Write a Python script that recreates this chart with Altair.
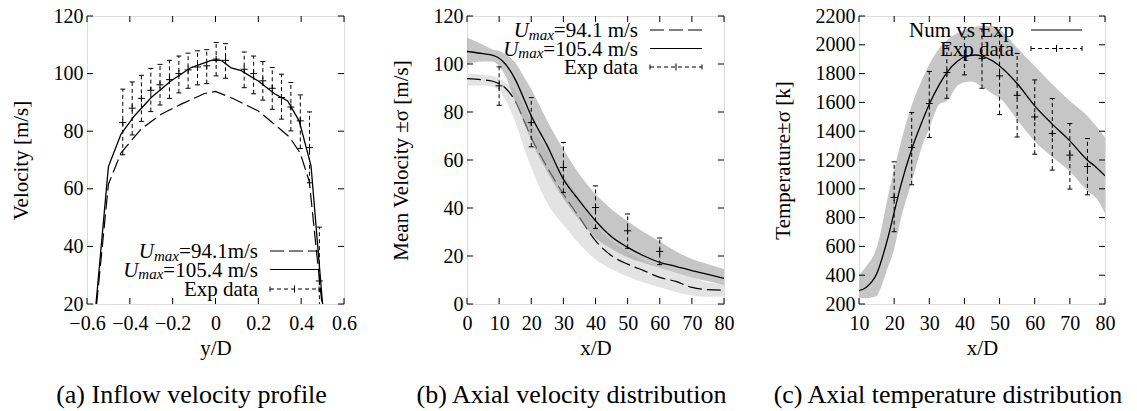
import altair as alt
import pandas as pd

FONT = "Liberation Serif"
H = 288
WA, WB, WC = 257, 257, 246
TK = 6

# ---------------- panel (a): inflow velocity profile ----------------
a_xticks = [-0.6, -0.4, -0.2, 0.0, 0.2, 0.4, 0.6]
a_yticks = [20, 40, 60, 80, 100, 120]
a_solid_x = [-0.558, -0.500, -0.441, -0.379, -0.300, -0.207, -0.114, -0.020, 0.026, 0.073, 0.120, 0.198, 0.276, 0.337, 0.391, 0.446, 0.500]
a_solid_y = [20, 67.7, 79.0, 85.3, 91.7, 97.5, 102.1, 104.6, 104.6, 102.0, 101.0, 97.5, 93.0, 90.5, 83.5, 68.0, 20]
a_dash_x = [-0.555, -0.500, -0.441, -0.348, -0.254, -0.160, -0.051, 0.000, 0.089, 0.200, 0.282, 0.345, 0.395, 0.438, 0.497]
a_dash_y = [20, 61.6, 72.5, 80.7, 85.9, 89.4, 93.1, 93.8, 91.1, 87.0, 82.0, 78.0, 72.5, 62.5, 20]
a_exp_x = [-0.433, -0.389, -0.346, -0.302, -0.259, -0.215, -0.171, -0.128, -0.084, -0.041, 0.003, 0.047,
           0.134, 0.178, 0.221, 0.265, 0.308, 0.352, 0.396, 0.439, 0.485]
a_exp_y = [83.0, 88.0, 91.4, 94.2, 96.1, 97.9, 100.0, 101.3, 102.3, 102.7, 105.0, 104.6,
           101.5, 100.0, 97.5, 94.9, 91.7, 88.4, 83.6, 74.3, 28.0]
a_exp_lo = [71.8, 78.7, 83.4, 86.8, 89.1, 91.4, 93.3, 94.9, 96.1, 96.5, 99.2, 98.4,
            95.1, 93.0, 90.8, 87.6, 84.2, 80.1, 74.0, 62.1, 9.5]
a_exp_hi = [94.6, 97.1, 99.4, 101.8, 103.2, 104.6, 106.1, 107.1, 107.9, 108.3, 110.8, 110.4,
            107.5, 106.1, 104.2, 102.1, 99.8, 96.9, 92.6, 86.7, 46.7]

# ---------------- panel (b): axial velocity ----------------
b_xticks = [0, 10, 20, 30, 40, 50, 60, 70, 80]
b_yticks = [0, 20, 40, 60, 80, 100, 120]
b_x = [0, 5, 8, 10, 12, 15, 18, 20, 25, 30, 35, 40, 45, 50, 55, 60, 65, 70, 75, 80]
b_solid = [105.2, 104.3, 103.6, 102.4, 99.9, 93.6, 84.6, 78.4, 65.9, 52.0, 43.0, 34.7, 28.0, 23.6, 20.1, 17.3, 15.7, 13.9, 12.3, 10.7]
b_dash = [93.9, 93.4, 92.8, 91.8, 89.9, 84.6, 75.6, 69.4, 56.9, 45.8, 36.1, 26.4, 20.1, 16.6, 13.9, 11.1, 9.4, 6.9, 6.0, 5.8]
b_dark_hi = [111, 108, 106, 105.4, 104, 100.6, 94, 89.5, 76.3, 64.5, 54.1, 45.8, 39.5, 34.5, 30, 26, 22, 18.7, 16.6, 14.6]
b_dark_lo = [100, 101, 101, 99, 95, 84, 75, 68, 55, 44, 35, 27.5, 23, 19.5, 17.2, 15, 13, 11, 9.5, 8]
b_light_hi = [96, 95.5, 95, 94, 92, 89, 82, 76, 64, 54, 44, 33, 26, 22, 18, 15, 13, 11, 9, 8.5]
b_light_lo = [91, 91, 90.5, 89, 85, 76, 64, 57, 42, 33, 25, 18.5, 14.5, 11.5, 9, 7, 5, 3.5, 3, 3]
b_exp_x = [10, 20, 30, 40, 50, 60]
b_exp_y = [90.9, 75.6, 56.9, 40.2, 30.5, 21.9]
b_exp_lo = [82.8, 65.5, 46.5, 31.5, 23.2, 16.4]
b_exp_hi = [98.8, 86.0, 67.3, 49.2, 37.5, 27.5]

# ---------------- panel (c): axial temperature ----------------
c_xticks = [10, 20, 30, 40, 50, 60, 70, 80]
c_yticks = [200, 400, 600, 800, 1000, 1200, 1400, 1600, 1800, 2000, 2200]
c_x = [10, 12, 15, 18, 20, 22, 25, 28, 30, 33, 35, 38, 40, 43, 45, 48, 50, 55, 60, 65, 70, 75, 77, 80]
c_solid = [292, 315, 408, 639, 836, 1032, 1275, 1470, 1587, 1730, 1807, 1885, 1916, 1929, 1922, 1888, 1853, 1731, 1576, 1449, 1333, 1199, 1160, 1090]
c_band_x = [10, 12, 15, 16, 18, 20, 22, 25, 28, 30, 33, 35, 38, 40, 42, 45, 48, 50, 55, 60, 65, 70, 75, 78, 80]
c_band_hi = [400, 460, 590, 680, 920, 1130, 1330, 1580, 1760, 1865, 1980, 2031, 2080, 2100, 2120, 2131, 2131, 2107, 1980, 1853, 1726, 1610, 1506, 1420, 1356]
c_band_lo = [245, 240, 255, 300, 440, 580, 800, 1045, 1300, 1420, 1590, 1610, 1715, 1740, 1745, 1710, 1660, 1630, 1480, 1330, 1220, 1120, 985, 920, 830]
c_exp_x = [20, 25, 30, 35, 40, 45, 50, 55, 60, 65, 70, 75]
c_exp_y = [940, 1287, 1592, 1807, 1923, 1906, 1784, 1649, 1499, 1384, 1234, 1155]
c_exp_lo = [702, 1028, 1356, 1629, 1791, 1698, 1515, 1360, 1240, 1130, 998, 958]
c_exp_hi = [1187, 1529, 1815, 1995, 2054, 2110, 2065, 1940, 1756, 1627, 1453, 1349]

captions = ["(a) Inflow velocity profile", "(b) Axial velocity distribution", "(c) Axial temperature distribution"]

ONE = pd.DataFrame({"k": [0]})
PLUS = "M-1,0L1,0M0,-1L0,1"
HBAR = "M-1,0L1,0"


def xaxis(vals, title, fmt):
    return alt.Axis(values=vals, format=fmt, title=title, ticks=False, tickSize=0, domain=False, grid=False,
                    labelFont=FONT, labelFontSize=20, labelColor="black", labelPadding=9,
                    labelFlush=False, labelOverlap=False,
                    titleFont=FONT, titleFontSize=21, titleFontWeight="normal", titleColor="black", titlePadding=4)


def yaxis(vals, title):
    return alt.Axis(values=vals, format="d", title=title, ticks=False, tickSize=0, domain=False, grid=False,
                    labelFont=FONT, labelFontSize=20, labelColor="black", labelPadding=4,
                    labelFlush=False, labelOverlap=False,
                    titleFont=FONT, titleFontSize=21, titleFontWeight="normal", titleColor="black", titlePadding=22)


def make_enc(xdom, ydom, xvals, yvals, xtitle, ytitle, xfmt):
    xs = alt.Scale(domain=xdom, nice=False, zero=False)
    ys = alt.Scale(domain=ydom, nice=False, zero=False)
    xa = xaxis(xvals, xtitle, xfmt)
    ya = yaxis(yvals, ytitle)

    def X(f):
        return alt.X(f + ":Q", scale=xs, axis=xa)

    def Y(f):
        return alt.Y(f + ":Q", scale=ys, axis=ya)
    return X, Y


def frame_ticks(X, Y, xvals, yvals, W):
    xt = pd.DataFrame({"x": xvals})
    yt = pd.DataFrame({"y": yvals})
    return [
        alt.Chart(xt).mark_rule(color="black", strokeWidth=1).encode(x=X("x"), y=alt.value(H), y2=alt.value(H - TK)),
        alt.Chart(xt).mark_rule(color="black", strokeWidth=1).encode(x=X("x"), y=alt.value(0), y2=alt.value(TK)),
        alt.Chart(yt).mark_rule(color="black", strokeWidth=1).encode(y=Y("y"), x=alt.value(0), x2=alt.value(TK)),
        alt.Chart(yt).mark_rule(color="black", strokeWidth=1).encode(y=Y("y"), x=alt.value(W), x2=alt.value(W - TK)),
    ]


def errbars(X, Y, xs, ys, los, his):
    df = pd.DataFrame({"x": xs, "y": ys, "lo": los, "hi": his})
    base = alt.Chart(df)
    return [
        base.mark_rule(color="black", strokeWidth=1, strokeDash=[4, 3], clip=True).encode(x=X("x"), y=Y("lo"), y2="hi:Q"),
        base.mark_point(shape=HBAR, size=25, filled=False, color="black", strokeWidth=1, opacity=1, clip=True).encode(x=X("x"), y=Y("lo")),
        base.mark_point(shape=HBAR, size=25, filled=False, color="black", strokeWidth=1, opacity=1, clip=True).encode(x=X("x"), y=Y("hi")),
        base.mark_point(shape=PLUS, size=49, filled=False, color="black", strokeWidth=1, opacity=1, clip=True).encode(x=X("x"), y=Y("y")),
    ]


def txt(s, x, y, size=21, italic=False):
    return alt.Chart(ONE).mark_text(text=s, font=FONT, fontSize=size, fontStyle="italic" if italic else "normal",
                                    align="right", baseline="alphabetic", color="black").encode(
        x=alt.value(x), y=alt.value(y))


def umax_label(rest, xr, yc):
    w_main = {"=94.1m/s": 79.0, "=94.1 m/s": 84.2, "=105.4 m/s": 94.7}[rest]
    xm = xr - w_main
    xu = xm - 25
    return [txt(rest, xr, yc + 7), txt("max", xm, yc + 9.5, size=15, italic=True), txt("U", xu, yc + 7, italic=True)]


def seg(x1, x2, y, dash=None):
    kw = {"color": "black", "strokeWidth": 1.2}
    if dash:
        kw["strokeDash"] = dash
    return alt.Chart(ONE).mark_rule(**kw).encode(x=alt.value(x1), x2=alt.value(x2), y=alt.value(y))


def vseg(x, y1, y2):
    return alt.Chart(ONE).mark_rule(color="black", strokeWidth=1).encode(x=alt.value(x), y=alt.value(y1), y2=alt.value(y2))


def err_sample(x1, x2, y):
    xm = (x1 + x2) / 2
    return [seg(x1, x2, y, [4, 3]), vseg(x1, y - 2.5, y + 2.5), vseg(x2, y - 2.5, y + 2.5),
            vseg(xm, y - 3.5, y + 3.5)]


def title(i, dx):
    return alt.TitleParams(captions[i], orient="bottom", anchor="middle", frame="group", fontSize=26, font=FONT,
                           fontWeight="normal", color="black", offset=24, dx=dx)


# ---------- build (a) ----------
XA, YA = make_enc([-0.6, 0.6], [20, 120], a_xticks, a_yticks, "y/D", "Velocity [m/s]", ".1~f")
la = []
la.append(alt.Chart(pd.DataFrame({"x": a_dash_x, "y": a_dash_y})).mark_line(color="black", strokeWidth=1.2, strokeDash=[14, 5], clip=True).encode(x=XA("x"), y=YA("y")))
la.append(alt.Chart(pd.DataFrame({"x": a_solid_x, "y": a_solid_y})).mark_line(color="black", strokeWidth=1.3, clip=True).encode(x=XA("x"), y=YA("y")))
la += errbars(XA, YA, a_exp_x, a_exp_y, a_exp_lo, a_exp_hi)
la += frame_ticks(XA, YA, a_xticks, a_yticks, WA)
rows_a = [235, 253.5, 273]
la += umax_label("=94.1m/s", 171, rows_a[0])
la += umax_label("=105.4 m/s", 171, rows_a[1])
la.append(txt("Exp data", 171, rows_a[2] + 7))
la.append(seg(183, 232, rows_a[0], [14, 5]))
la.append(seg(183, 232, rows_a[1]))
la += err_sample(183, 232, rows_a[2])
pa = alt.layer(*la).properties(width=WA, height=H, title=title(0, -24))

# ---------- build (b) ----------
XB, YB = make_enc([0, 80], [0, 120], b_xticks, b_yticks, "x/D", "Mean Velocity ±σ [m/s]", "d")
bdf = pd.DataFrame({"x": b_x, "s": b_solid, "d": b_dash, "dh": b_dark_hi, "dl": b_dark_lo, "lh": b_light_hi, "ll": b_light_lo})
lb = []
lb.append(alt.Chart(bdf).mark_area(color="#e3e3e3", opacity=1, interpolate="monotone", clip=True).encode(x=XB("x"), y=YB("ll"), y2="lh:Q"))
lb.append(alt.Chart(bdf).mark_line(color="black", strokeWidth=1.2, strokeDash=[14, 5], interpolate="monotone", clip=True).encode(x=XB("x"), y=YB("d")))
lb.append(alt.Chart(bdf).mark_area(color="#a0a0a0", opacity=0.6, interpolate="monotone", clip=True).encode(x=XB("x"), y=YB("dl"), y2="dh:Q"))
lb.append(alt.Chart(bdf).mark_line(color="black", strokeWidth=1.3, interpolate="monotone", clip=True).encode(x=XB("x"), y=YB("s")))
lb += errbars(XB, YB, b_exp_x, b_exp_y, b_exp_lo, b_exp_hi)
lb += frame_ticks(XB, YB, b_xticks, b_yticks, WB)
rows_b = [14, 32.5, 51]
lb += umax_label("=94.1 m/s", 171, rows_b[0])
lb += umax_label("=105.4 m/s", 171, rows_b[1])
lb.append(txt("Exp data", 171, rows_b[2] + 7))
lb.append(seg(183, 235, rows_b[0], [14, 5]))
lb.append(seg(183, 235, rows_b[1]))
lb += err_sample(183, 235, rows_b[2])
pb = alt.layer(*lb).properties(width=WB, height=H, title=title(1, -24))

# ---------- build (c) ----------
XC, YC = make_enc([10, 80], [200, 2200], c_xticks, c_yticks, "x/D", "Temperature±σ [k]", "d")
lc = []
lc.append(alt.Chart(pd.DataFrame({"x": c_band_x, "lo": c_band_lo, "hi": c_band_hi})).mark_area(color="#c6c6c6", opacity=1, interpolate="monotone", clip=True).encode(x=XC("x"), y=YC("lo"), y2="hi:Q"))
lc.append(alt.Chart(pd.DataFrame({"x": c_x, "y": c_solid})).mark_line(color="black", strokeWidth=1.3, interpolate="monotone", clip=True).encode(x=XC("x"), y=YC("y")))
lc += errbars(XC, YC, c_exp_x, c_exp_y, c_exp_lo, c_exp_hi)
lc += frame_ticks(XC, YC, c_xticks, c_yticks, WC)
rows_c = [14, 32.5]
lc.append(txt("Num vs Exp", 155, rows_c[0] + 7))
lc.append(txt("Exp data", 155, rows_c[1] + 7))
lc.append(seg(172, 223, rows_c[0]))
lc += err_sample(172, 223, rows_c[1])
pc = alt.layer(*lc).properties(width=WC, height=H, title=title(2, -34))

inner = alt.hconcat(pa, pb, spacing=123, bounds="flush")
chart = alt.hconcat(inner, pc, spacing=36, bounds="full").properties(
    padding={"left": 1, "top": -3, "right": 0, "bottom": 0}
).configure_view(stroke="black", strokeWidth=1.2).configure(background="white")

chart.save("out.html", embed_options={"renderer": "svg", "actions": False})
